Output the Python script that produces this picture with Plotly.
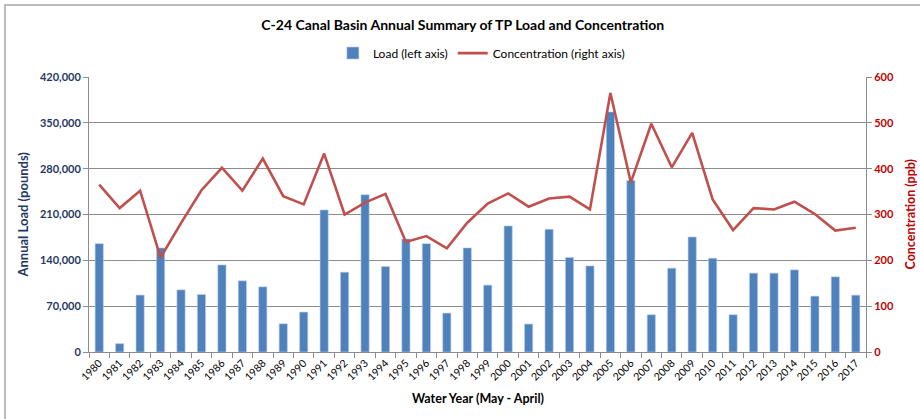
import plotly.graph_objects as go

years = [str(y) for y in range(1980, 2018)]

# annual TP load, pounds (left axis)
load_lbs = [165500, 12700, 86900, 159000, 94900, 87800, 133000, 108700, 99500, 43100,
            61000, 216900, 121900, 240200, 130500, 172700, 165500, 59400, 159000, 102100,
            192500, 42700, 187400, 144200, 131500, 366700, 262100, 56900, 128000, 175700,
            143200, 56900, 120400, 120400, 125400, 85300, 114800, 86800]

# flow-weighted TP concentration, ppb (right axis)
conc_ppb = [365, 314, 352, 206, 281, 353, 402, 352, 422, 340,
            322, 433, 300, 326, 345, 240, 253, 226, 282, 324,
            346, 317, 335, 339, 311, 565, 370, 498, 403, 478,
            333, 266, 314, 311, 328, 301, 265, 271]

left_ticks = [0, 70000, 140000, 210000, 280000, 350000, 420000]
right_ticks = [0, 100, 200, 300, 400, 500, 600]

navy = '#1F3864'
red = '#C00000'
grid = '#8C8C8C'
font_family = 'Lato, sans-serif'

fig = go.Figure()
fig.add_trace(go.Bar(x=years, y=load_lbs, name='Load (left axis)',
                     marker={'color': '#4F81BD', 'line': {'color': '#B9CDE5', 'width': 0.6}},
                     yaxis='y'))
fig.add_trace(go.Scatter(x=years, y=conc_ppb, name='Concentration (right axis)',
                         mode='lines', line={'color': '#C0504D', 'width': 2.6},
                         yaxis='y2'))

fig.update_layout(
    width=920, height=419,
    margin={'l': 89, 'r': 54, 't': 77, 'b': 67, 'autoexpand': False},
    paper_bgcolor='white', plot_bgcolor='white',
    font={'family': font_family, 'size': 11, 'color': 'black'},
    title={'text': '<b>C-24 Canal Basin Annual Summary of TP Load and Concentration</b>',
           'x': 0.503, 'xanchor': 'center', 'y': 1 - 25 / 419, 'yanchor': 'middle',
           'font': {'size': 14, 'color': 'black'}},
    legend={'orientation': 'h', 'x': 0.505, 'xanchor': 'center', 'y': 1.087, 'yanchor': 'middle',
            'font': {'size': 12}, 'traceorder': 'normal', 'itemwidth': 30},
    bargap=0.6,
    showlegend=True,
    xaxis={'type': 'category', 'tickangle': -45, 'tickson': 'boundaries',
           'ticks': 'outside', 'ticklen': 5, 'tickcolor': grid, 'automargin': False,
           'showline': True, 'linecolor': grid, 'showgrid': False,
           'tickfont': {'size': 10.5}},
    yaxis={'range': [0, 420000], 'tickvals': left_ticks, 'tickformat': ',',
           'ticks': 'outside', 'ticklen': 5, 'tickcolor': grid, 'automargin': False,
           'showline': True, 'linecolor': grid, 'gridcolor': grid, 'gridwidth': 1,
           'zeroline': False,
           'tickfont': {'size': 11, 'color': navy, 'weight': 'bold'}},
    yaxis2={'range': [0, 600], 'tickvals': right_ticks, 'overlaying': 'y', 'side': 'right',
            'ticks': 'outside', 'ticklen': 5, 'tickcolor': grid, 'automargin': False,
            'showline': True, 'linecolor': grid, 'showgrid': False, 'zeroline': False,
            'tickfont': {'size': 11, 'color': red, 'weight': 'bold'}},
)

fig.add_annotation(text='<b>Annual Load (pounds)</b>', xref='paper', yref='paper',
                   x=(22 - 89) / 777, y=0.5, textangle=-90, showarrow=False,
                   xanchor='center', yanchor='middle',
                   font={'size': 13, 'color': navy})
fig.add_annotation(text='<b>Concentration (ppb)</b>', xref='paper', yref='paper',
                   x=(910 - 89) / 777, y=0.5, textangle=-90, showarrow=False,
                   xanchor='center', yanchor='middle',
                   font={'size': 12.5, 'color': red})
fig.add_annotation(text='<b>Water Year (May - April)</b>', xref='paper', yref='paper',
                   x=(478 - 89) / 777, y=(352 - 398) / 275, showarrow=False,
                   xanchor='center', yanchor='middle',
                   font={'size': 12.5, 'color': 'black'})

# chart frame
fig.add_shape(type='rect', xref='paper', yref='paper',
              x0=(5 - 89) / 777, x1=1.3, y0=-0.6, y1=(352 - 5) / 275,
              line={'color': '#A6A6A6', 'width': 1.5}, layer='below')

# drop the default page margin so the figure sits at the window's corner
fig.write_html('out.html', config={'displayModeBar': False},
               post_script="document.body.style.margin='0';")
